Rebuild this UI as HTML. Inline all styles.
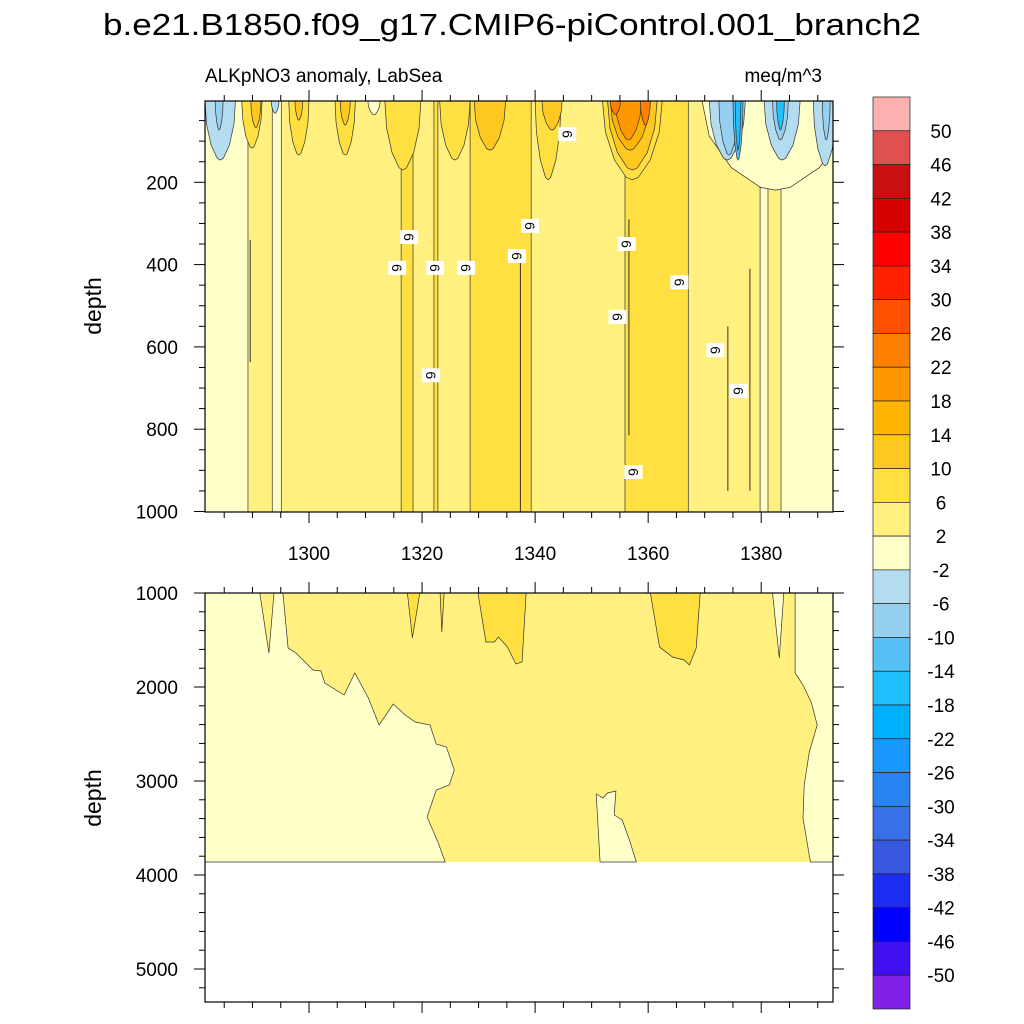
<!DOCTYPE html>
<html><head><meta charset="utf-8">
<style>
html,body{margin:0;padding:0;background:#fff;}
svg{display:block;font-family:"Liberation Sans",Arial,sans-serif;}
</style></head>
<body>
<svg id="chart" width="1024" height="1024" viewBox="0 0 1024 1024" xmlns="http://www.w3.org/2000/svg">
<defs>
<clipPath id="clipTop"><rect x="205" y="101" width="628" height="411"/></clipPath>
<clipPath id="clipBot"><rect x="205" y="593" width="628" height="409"/></clipPath>
</defs>
<rect width="1024" height="1024" fill="#fff"/>
<text x="512" y="35" font-size="31" text-anchor="middle" textLength="818" lengthAdjust="spacingAndGlyphs">b.e21.B1850.f09_g17.CMIP6-piControl.001_branch2</text>
<text x="205" y="82" font-size="19">ALKpNO3 anomaly, LabSea</text>
<text x="822" y="82" font-size="19" text-anchor="end">meq/m^3</text>
<g id="topPlot"></g>
<g id="botPlot"></g>
<g id="cbar"></g>
<text transform="translate(101,306) rotate(-90)" font-size="23" text-anchor="middle">depth</text>
<text transform="translate(101,798) rotate(-90)" font-size="23" text-anchor="middle">depth</text>
</svg>
<script>
// ---------- data ----------
const levelLabels = [50,46,42,38,34,30,26,22,18,14,10,6,2,-2,-6,-10,-14,-18,-22,-26,-30,-34,-38,-42,-46,-50];
const levelColors = ["#8020e8","#4010f0","#0000ff","#1c2cf0","#3858e0","#3870e8","#2884f0","#1898ff","#00b0ff","#1ec0ff","#55c0f5","#96d0f0","#b4dcf0","#ffffc8","#fff080","#ffe040","#ffc820","#ffb400","#ff9800","#ff8000","#ff5000","#ff2000","#ff0000","#d60000","#c81010","#e05050","#ffb0b0"];
const xTickYears = [1300,1320,1340,1360,1380];
const topDepthTicks = [200,400,600,800,1000];
const botDepthTicks = [1000,2000,3000,4000,5000];
const bandEdges = [1281.6,1289.2,1293.5,1295.1,1316.3,1318.4,1322.1,1322.8,1328.5,1339.3,1355.9,1367.1,1379.8,1381.2,1383.5,1392.7];
const bandValues = [0,4,0,4,8,4,8,4,8,4,8,4,0,4,0];
const blobYears = [1284.3,1284.1,1289.9,1290.6,1294.0,1298.2,1298.2,1306.4,1306.4,1311.5,1316.6,1325.8,1332.0,1342.3,1343.0,1357.2,1357.2,1356.8,1356.5,1354.2,1359.5,1382.5,1374.0,1374.3,1375.9,1375.9,1383.7,1383.4,1383.4,1391.3,1391.5];
const blobHalfWidths = [2.7,0.7,1.8,0.9,0.7,1.8,0.7,1.8,0.9,1.1,3.2,2.7,2.8,2.3,1.8,5.3,4.4,3.5,2.3,0.9,0.9,13,3.2,1.8,0.9,0.5,3.2,1.4,0.7,2.1,0.7];
const blobDepths = [146,73,117,68,32,134,49,134,61,36,170,146,122,194,73,194,170,122,97,36,61,219,146,134,146,122,146,97,73,160,97];
const blobValues = [-4,-8,8,12,-4,8,12,8,12,0,8,8,12,8,12,8,12,16,20,24,24,0,-4,-8,-12,-16,-4,-8,-16,-4,-8];
const spikeYears = [1289.6,1356.6,1374.1,1378.0,1337.4];
const spikeTop = [340,290,550,410,375];
const spikeBot = [637,815,950,950,1000];
const labelYears = [1317.7,1315.6,1322.3,1327.8,1339.1,1336.8,1345.7,1356.2,1354.6,1321.6,1365.5,1371.9,1376.0,1357.4];
const labelDepths = [333,408,408,408,306,379,83,350,527,669,443,608,707,904];
const botDataBottom = 3862;
const palePolyYears = [1281.6,1295.4,1295.4,1296.3,1297.7,1300.7,1302.1,1302.8,1306.2,1308.1,1310.5,1312.4,1314.9,1317.0,1318.8,1321.4,1322.5,1324.3,1325.7,1324.8,1322.5,1320.9,1322.8,1324.1,1281.6];
const palePolyDepths = [1000,1000,1011,1585,1638,1819,1830,1957,2085,1851,2117,2404,2181,2298,2372,2404,2606,2638,2883,3043,3096,3383,3649,3862,3862];
const paleRightYears = [1386.0,1386.0,1387.4,1388.9,1389.9,1388.5,1387.6,1387.4,1388.7,1392.7,1392.7];
const paleRightDepths = [1000,1851,1979,2170,2404,2691,3043,3394,3862,3862,1000];
const fingerYears = [1291.3,1292.9,1293.8];
const fingerDepths = [1000,1638,1000];
const paleFingerYears = [1382.0,1383.2,1384.0];
const paleFingerDepths = [1000,1691,1000];
const islandYears = [1350.8,1352.0,1352.8,1354.3,1354.0,1355.4,1356.8,1357.9,1351.5];
const islandDepths = [3138,3181,3128,3106,3362,3415,3649,3862,3862];
const blobAYears = [1317.4,1318.3,1319.6];
const blobADepths = [1000,1479,1000];
const blobBYears = [1323.2,1323.5,1323.9];
const blobBDepths = [1000,1415,1000];
const blobCYears = [1329.9,1331.3,1332.8,1333.5,1335.1,1336.6,1337.7,1338.4];
const blobCDepths = [1000,1521,1521,1468,1574,1755,1734,1000];
const blobDYears = [1360.4,1362.0,1364.3,1366.4,1367.3,1368.5,1369.2];
const blobDDepths = [1000,1574,1681,1713,1766,1585,1000];

// ---------- scales ----------
const X0=205, X1=833, YR0=1281.6, YR1=1392.7;
function xs(yr){return X0+(yr-YR0)*(X1-X0)/(YR1-YR0);}
function yTop(d){return 100+d*0.4115;}
function yBot(d){return 593+(d-1000)*0.094;}
function colorFor(v){ if(v<-50) return levelColors[0]; let i=1+Math.floor((v+50)/4); if(i>26)i=26; if(i<0)i=0; return levelColors[i]; }

const NS="http://www.w3.org/2000/svg";
function mk(tag, attrs, parent){const e=document.createElementNS(NS,tag); for(const k in attrs) e.setAttribute(k,attrs[k]); parent.appendChild(e); return e;}

// ---------- top panel ----------
const topPanel=document.getElementById('topPlot');
const tg=mk('g',{'clip-path':'url(#clipTop)'},topPanel);
for(let i=0;i<bandValues.length;i++){
  const r=mk('rect',{x:xs(bandEdges[i]),y:101,width:xs(bandEdges[i+1])-xs(bandEdges[i])+0.5,height:411,fill:colorFor(bandValues[i])},tg);
  
  
}
for(let i=1;i<bandEdges.length-1;i++){
  const l=mk('line',{x1:xs(bandEdges[i]),x2:xs(bandEdges[i]),y1:101,y2:512,stroke:'#333',"stroke-width":0.7},tg);
  
  
}
for(let i=0;i<blobYears.length;i++){
  const c=blobYears[i], h=blobHalfWidths[i], d=blobDepths[i];
  const pts=[[c-h,0],[c-0.9*h,0.4*d],[c-0.6*h,0.75*d],[c-0.2*h,0.97*d],[c,d],[c+0.2*h,0.97*d],[c+0.6*h,0.75*d],[c+0.9*h,0.4*d],[c+h,0]];
  const p=mk('polygon',{points:pts.map(q=>xs(q[0]).toFixed(1)+','+yTop(q[1]).toFixed(1)).join(' '),fill:colorFor(blobValues[i]),stroke:'#333',"stroke-width":0.7},tg);
  
  
}
for(let i=0;i<spikeYears.length;i++){
  const l=mk('line',{x1:xs(spikeYears[i]),x2:xs(spikeYears[i]),y1:yTop(spikeTop[i]),y2:yTop(spikeBot[i]),stroke:'#333',"stroke-width":1},tg);
  
  
}
for(let i=0;i<labelYears.length;i++){
  const cx=xs(labelYears[i]), cy=yTop(labelDepths[i]);
  const g=mk('g',{transform:'translate('+cx.toFixed(1)+','+cy.toFixed(1)+')'},tg);
  
  
  mk('rect',{x:-9,y:-7,width:18,height:14,fill:'#fff'},g);
  const t=mk('text',{transform:'rotate(90)',x:0,y:5,'font-size':14,'text-anchor':'middle'},g);
  t.textContent='6';
}
mk('rect',{x:205,y:101,width:628,height:411,fill:'none',stroke:'#000',"stroke-width":1.2},topPanel);

// ---------- bottom panel ----------
const botPanel=document.getElementById('botPlot');
const bg=mk('g',{'clip-path':'url(#clipBot)'},botPanel);
function poly(ys,ds,val,name,stroke){
  const p=mk('polygon',{points:ys.map((y,i)=>xs(y).toFixed(1)+','+yBot(ds[i]).toFixed(1)).join(' '),fill:colorFor(val),stroke:stroke?'#333':'none',"stroke-width":0.7},bg);
  
  
}
const baseRect=mk('rect',{x:205,y:593,width:628,height:yBot(botDataBottom)-593,fill:colorFor(4)},bg);


poly(palePolyYears,palePolyDepths,0,'pale-region-left',true);
poly(paleRightYears,paleRightDepths,0,'pale-region-right',true);
poly(fingerYears,fingerDepths,4,'yellow-finger',true);
poly(paleFingerYears,paleFingerDepths,0,'pale-finger',true);
poly(islandYears,islandDepths,0,'pale-island',true);
poly(blobAYears,blobADepths,8,'deep-blob-a',true);
poly(blobBYears,blobBDepths,8,'deep-blob-b',true);
poly(blobCYears,blobCDepths,8,'deep-blob-c',true);
poly(blobDYears,blobDDepths,8,'deep-blob-d',true);
mk('rect',{x:205,y:593,width:628,height:409,fill:'none',stroke:'#000',"stroke-width":1.2},botPanel);

// ---------- ticks ----------
function tick(parent,x1,y1,x2,y2){mk('line',{x1:x1,y1:y1,x2:x2,y2:y2,stroke:'#000',"stroke-width":1},parent);}
const axes=mk('g',{},document.getElementById('chart'));


for(let yr=1285; yr<=1390; yr+=5){
  const x=xs(yr), major=(yr%20===0);
  const L=major?11:6;
  tick(axes,x,101,x,101-L); tick(axes,x,512,x,512+L);
  tick(axes,x,593,x,593-L); tick(axes,x,1002,x,1002+L);
}
for(let i=0;i<xTickYears.length;i++){
  const t=mk('text',{x:xs(xTickYears[i]),y:560,'font-size':19,'text-anchor':'middle'},axes);
  
  
  t.textContent=xTickYears[i];
}
for(let d=50; d<=1000; d+=50){
  const y=yTop(d), major=(d%200===0), L=major?11:6;
  tick(axes,205,y,205-L,y); tick(axes,833,y,833+L,y);
}
for(let i=0;i<topDepthTicks.length;i++){
  const t=mk('text',{x:178,y:yTop(topDepthTicks[i])+7,'font-size':19,'text-anchor':'end'},axes);
  
  
  t.textContent=topDepthTicks[i];
}
for(let d=1000; d<=5300; d+=200){
  const y=yBot(d), major=(d%1000===0), L=major?11:6;
  tick(axes,205,y,205-L,y); tick(axes,833,y,833+L,y);
}
for(let i=0;i<botDepthTicks.length;i++){
  const t=mk('text',{x:178,y:yBot(botDepthTicks[i])+7,'font-size':19,'text-anchor':'end'},axes);
  
  
  t.textContent=botDepthTicks[i];
}

// ---------- colorbar ----------
const cb=document.getElementById('cbar');
const CB_TOP=97, CB_BOT=1009, n=levelColors.length, bh=(CB_BOT-CB_TOP)/n;
for(let i=0;i<n;i++){
  const r=mk('rect',{x:873,y:CB_TOP+i*bh,width:37,height:bh,fill:levelColors[n-1-i],stroke:'#222',"stroke-width":0.7},cb);
  
  
}
for(let i=0;i<levelLabels.length;i++){
  const t=mk('text',{x:941,y:CB_TOP+(i+1)*bh+7,'font-size':19,'text-anchor':'middle'},cb);
  
  
  t.textContent=levelLabels[i];
}
</script>
</body></html>
